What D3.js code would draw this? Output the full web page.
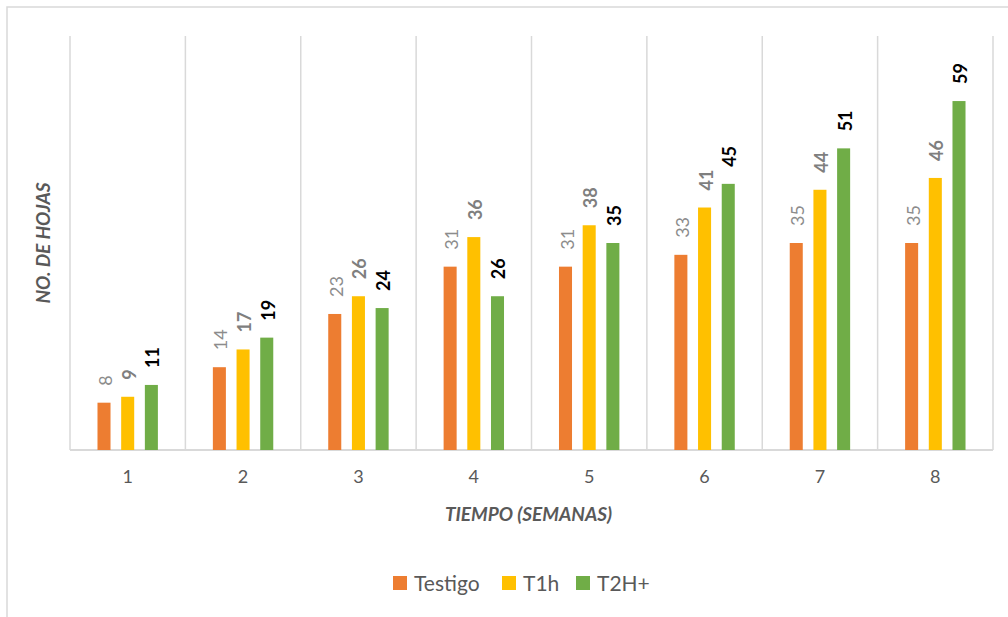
<!DOCTYPE html>
<html>
<head>
<meta charset="utf-8">
<script src="https://cdn.jsdelivr.net/npm/d3@7"></script>
<style>
  body { margin: 0; background: #fff; }
  svg { display: block; font-family: Lato, "Open Sans", sans-serif; }
</style>
</head>
<body>
<svg id="chart" width="1008" height="617"></svg>
<script>
(function() {

var semanas = ["1", "2", "3", "4", "5", "6", "7", "8"];
var series = ["Testigo", "T1h", "T2H+"];
var testigo = [8, 14, 23, 31, 31, 33, 35, 35];
var t1h = [9, 17, 26, 36, 38, 41, 44, 46];
var t2h = [11, 19, 24, 26, 35, 45, 51, 59];
var colores = ["#ED7D31", "#FFC000", "#70AD47"];

var valores = [testigo, t1h, t2h];

var svg = d3.select("#chart");

var margin = {top: 36, left: 70, right: 15, bottom: 167};
var width = 1008 - margin.left - margin.right,
    height = 617 - margin.top - margin.bottom;

// outer frame
svg.append("rect")
  .attr("x", 7).attr("y", 7)
  .attr("width", 1010).attr("height", 620)
  .attr("fill", "none")
  .attr("stroke", "#d9d9d9")
  .attr("stroke-width", 1.5);

var g = svg.append("g")
  .attr("transform", "translate(" + margin.left + "," + margin.top + ")");

var x0 = d3.scaleBand()
  .domain(semanas)
  .range([0, width])
  .padding(0);

var x1 = d3.scaleBand()
  .domain(series)
  .range([0, 60.4])
  .paddingInner(0.45)
  .paddingOuter(0);

var y = d3.scaleLinear()
  .domain([0, 70])
  .range([height, 0]);

// vertical gridlines at category boundaries
var bordes = semanas.map(function(s) { return x0(s); }).concat([width]);
g.selectAll(".grid")
  .data(bordes)
  .enter().append("line")
  .attr("class", "grid")
  .attr("x1", function(d) { return d; })
  .attr("x2", function(d) { return d; })
  .attr("y1", 0)
  .attr("y2", height)
  .attr("stroke", "#d9d9d9")
  .attr("stroke-width", 1.5);

// baseline
g.append("line")
  .attr("x1", 0).attr("x2", width)
  .attr("y1", y(0)).attr("y2", y(0))
  .attr("stroke", "#d9d9d9")
  .attr("stroke-width", 2);

var grupos = g.selectAll(".grupo")
  .data(semanas)
  .enter().append("g")
  .attr("class", "grupo")
  .attr("transform", function(d) {
    return "translate(" + (x0(d) + (x0.bandwidth() - 60.4) / 2) + ",0)";
  });

var estilos = [
  {fill: "#8c8c8c", weight: "normal"},
  {fill: "#7f7f7f", weight: "bold"},
  {fill: "#000000", weight: "bold"}
];

grupos.selectAll("rect")
  .data(function(d, i) {
    return series.map(function(s, j) { return {serie: s, j: j, v: valores[j][i]}; });
  })
  .enter().append("rect")
  .attr("x", function(d) { return x1(d.serie); })
  .attr("width", x1.bandwidth())
  .attr("y", function(d) { return y(d.v); })
  .attr("height", function(d) { return y(0) - y(d.v); })
  .attr("fill", function(d) { return colores[d.j]; });

grupos.selectAll(".etiqueta")
  .data(function(d, i) {
    return series.map(function(s, j) { return {serie: s, j: j, v: valores[j][i]}; });
  })
  .enter().append("text")
  .attr("class", "etiqueta")
  .attr("transform", function(d) {
    var cx = x1(d.serie) + x1.bandwidth() / 2 + 1;
    return "translate(" + cx + "," + (y(d.v) - 17) + ") rotate(-90)";
  })
  .attr("dominant-baseline", "central")
  .attr("text-anchor", "start")
  .style("font-size", "18px")
  .style("font-weight", function(d) { return estilos[d.j].weight; })
  .attr("fill", function(d) { return estilos[d.j].fill; })
  .text(function(d) { return d.v; });

// x axis labels
var xAxis = d3.axisBottom(x0).tickSize(0).tickPadding(20);
g.append("g")
  .attr("transform", "translate(0," + height + ")")
  .call(xAxis)
  .call(function(a) { a.select(".domain").remove(); })
  .selectAll("text")
  .style("font-size", "18px")
  .style("font-family", "Lato, 'Open Sans', sans-serif")
  .attr("fill", "#595959");

// axis titles
g.append("text")
  .attr("x", width / 2 - 3)
  .attr("y", height + 71)
  .attr("text-anchor", "middle")
  .style("font-size", "19px")
  .style("font-weight", "bold")
  .style("font-style", "italic")
  .attr("fill", "#595959")
  .text("TIEMPO (SEMANAS)");

g.append("text")
  .attr("transform", "translate(" + (-20) + "," + (height / 2) + ") rotate(-90)")
  .attr("text-anchor", "middle")
  .style("font-size", "19px")
  .style("font-weight", "bold")
  .style("font-style", "italic")
  .attr("fill", "#595959")
  .text("NO. DE HOJAS");

// legend
var legendX = [393, 502, 576];
var legend = svg.selectAll(".leyenda")
  .data(series)
  .enter().append("g")
  .attr("class", "leyenda")
  .attr("transform", function(d, i) { return "translate(" + legendX[i] + ",576)"; });

legend.append("rect")
  .attr("width", 14)
  .attr("height", 14)
  .attr("fill", function(d, i) { return colores[i]; });

legend.append("text")
  .attr("x", 21)
  .attr("y", 15)
  .style("font-size", "21px")
  .attr("fill", "#595959")
  .text(function(d) { return d; });

})();
</script>
</body>
</html>
